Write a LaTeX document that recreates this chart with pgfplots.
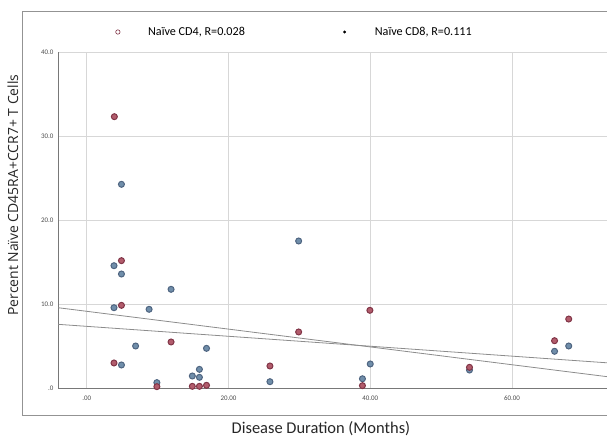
\documentclass[border=0pt]{standalone}
\usepackage{fontspec}
\setmainfont{Carlito}
\newfontfamily\ylabfont{Open Sans}
\usepackage{pgfplots}
\pgfplotsset{compat=1.18}
\definecolor{cdfour}{RGB}{178,92,108}
\definecolor{cdfouredge}{RGB}{128,52,70}
\definecolor{cdeight}{RGB}{112,142,170}
\definecolor{cdeightedge}{RGB}{78,100,128}
\definecolor{gridc}{RGB}{215,215,215}
\definecolor{axc}{RGB}{120,120,120}
\begin{document}
\begin{tikzpicture}
\path[use as bounding box] (0,0) rectangle (607bp,437bp);
\draw[axc!80, line width=0.9bp] (615bp,425.5bp) -- (22bp,425.5bp) -- (22bp,22bp) -- (615bp,22bp);
\begin{axis}[
  at={(58bp,49bp)}, anchor=south west,
  scale only axis, width=549bp, height=336bp,
  xmin=-4.05, xmax=73.4, ymin=0, ymax=40,
  axis x line*=bottom, axis y line*=left,
  axis line style={axc, line width=0.9bp, -},
  grid=major, major grid style={gridc, line width=0.7bp},
  major tick length=0pt,
  xtick={0,20,40,60}, xticklabels={.00,20.00,40.00,60.00},
  ytick={0,10,20,30,40}, yticklabels={.0,10.0,20.0,30.0,40.0},
  tick label style={font=\fontsize{7}{8}\selectfont, text=black!70},
  /pgf/number format/assume math mode=true,
  xticklabel style={yshift=-4bp},
  yticklabel style={xshift=-1bp},
  xlabel={Disease Duration (Months)},
  ylabel={Percent Naïve CD45RA+CCR7+ T Cells},
  xlabel style={font=\fontsize{16.5}{19}\selectfont, text=black!85, at={(axis description cs:0.479,0)}, anchor=base, yshift=-45bp},
  ylabel style={font=\ylabfont\fontsize{14}{17}\selectfont, text=black!85, at={(axis description cs:-0.0820,0.574)}, anchor=center},
  legend columns=2,
  legend style={at={(axis description cs:0,1)}, anchor=west, xshift=54bp, yshift=20bp,
    draw=none, fill=none, font=\fontsize{12.2}{14}\selectfont,
    /tikz/every even column/.append style={column sep=95bp}},
]
\addplot[forget plot, color=black!45, line width=0.8bp] coordinates {(-4.05,9.56) (73.4,1.35)};
\addplot[forget plot, color=black!45, line width=0.8bp] coordinates {(-4.05,7.58) (73.4,3.0)};
\addlegendimage{legend image code/.code={\draw[cdfouredge, line width=0.6bp] (0bp,0bp) circle (2.2bp); \path (-2.5bp,0) (28bp,0);}}
\addlegendentry{Naïve CD4, R=0.028}
\addlegendimage{legend image code/.code={\fill[black] (0bp,0bp) circle (1.3bp); \path (-2.5bp,0) (28bp,0);}}
\addlegendentry{Naïve CD8, R=0.111}
\addplot[forget plot, only marks, mark=*, mark size=3bp, mark options={fill=cdeight, draw=cdeightedge, line width=1bp}]
  coordinates {(4.9,24.25) (3.85,14.56) (4.9,13.57) (11.9,11.75) (3.85,9.56) (8.8,9.37) (6.9,5.0) (16.9,4.72) (4.9,2.74) (9.9,0.64) (14.9,1.43) (15.9,2.22) (15.9,1.27) (25.85,0.75) (29.9,17.5) (40,2.86) (38.9,1.1) (54,2.14) (66,4.37) (68,5.0)};
\addplot[forget plot, only marks, mark=*, mark size=3bp, mark options={fill=cdfour, draw=cdfouredge, line width=1bp}]
  coordinates {(3.9,32.3) (4.9,15.16) (4.9,9.84) (11.9,5.48) (3.85,2.98) (9.9,0.16) (14.9,0.2) (15.9,0.2) (16.9,0.32) (25.85,2.62) (29.9,6.67) (39.95,9.25) (38.9,0.28) (54,2.46) (66,5.63) (68,8.21)};
\end{axis}
\end{tikzpicture}
\end{document}
